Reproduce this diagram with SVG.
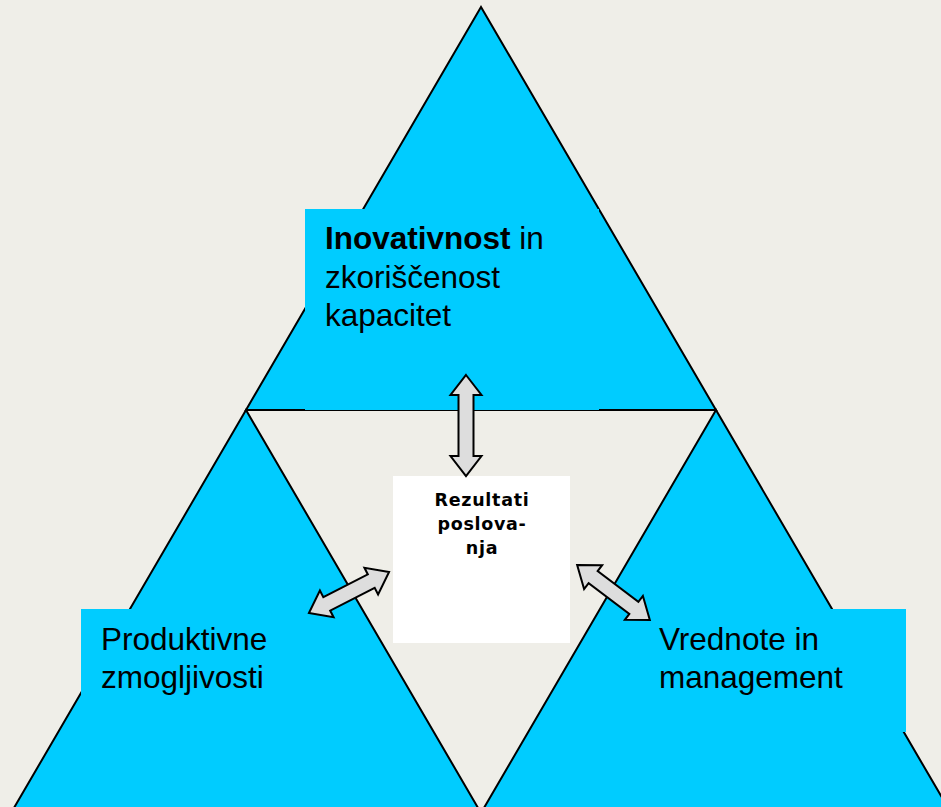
<svg xmlns="http://www.w3.org/2000/svg" width="941" height="807" viewBox="0 0 941 807">
<style>
.tri{fill:#00CCFF;stroke:#000;stroke-width:2;stroke-linejoin:miter}
.lbl{fill:#00CCFF}
.t{font-family:"Liberation Sans",Arial,sans-serif;font-size:31.5px;fill:#000}
.c{font-family:"DejaVu Sans",Verdana,sans-serif;font-size:17.5px;font-weight:bold;letter-spacing:0.7px;fill:#000;text-anchor:middle}
.arr{fill:#DDDDDD;stroke:#000;stroke-width:2;stroke-linejoin:miter}
</style>
<rect width="941" height="807" fill="#EFEEE8"/>
<g id="node-top">
<polygon class="tri" points="481,7 246,410 716,410"/>
<rect class="lbl" x="305" y="209" width="294" height="201"/>
<text class="t" x="325" y="249"><tspan font-weight="bold">Inovativnost</tspan> in</text>
<text class="t" x="325" y="288">zkoriščenost</text>
<text class="t" x="325" y="326">kapacitet</text>
</g>
<g id="node-left">
<polygon class="tri" points="246,410 11,813 481,813"/>
<rect class="lbl" x="81" y="609" width="279" height="111"/>
<text class="t" x="101" y="650">Produktivne</text>
<text class="t" x="101" y="688">zmogljivosti</text>
</g>
<g id="node-right">
<polygon class="tri" points="716,410 481,813 951,813"/>
<rect class="lbl" x="613" y="609" width="293" height="123"/>
<text class="t" x="659" y="650">Vrednote in</text>
<text class="t" x="659" y="688">management</text>
</g>
<g id="node-center">
<rect x="393" y="476" width="177" height="167" fill="#FFFFFF"/>
<text class="c" x="482" y="506">Rezultati</text>
<text class="c" x="482" y="530">poslova-</text>
<text class="c" x="482" y="554">nja</text>
</g>
<g id="connectors">
<polygon class="arr" transform="translate(466,425.5) rotate(90)" points="-50.5,0 -30.5,-15.5 -30.5,-7.5 30.5,-7.5 30.5,-15.5 50.5,0 30.5,15.5 30.5,7.5 -30.5,7.5 -30.5,15.5"/>
<polygon class="arr" transform="translate(349,592.5) rotate(-27.1)" points="-45,0 -25,-15 -25,-7.5 25,-7.5 25,-15 45,0 25,15 25,7.5 -25,7.5 -25,15"/>
<polygon class="arr" transform="translate(613.5,592.5) rotate(37)" points="-45.5,0 -25.5,-15 -25.5,-7.5 25.5,-7.5 25.5,-15 45.5,0 25.5,15 25.5,7.5 -25.5,7.5 -25.5,15"/>
</g>
</svg>
